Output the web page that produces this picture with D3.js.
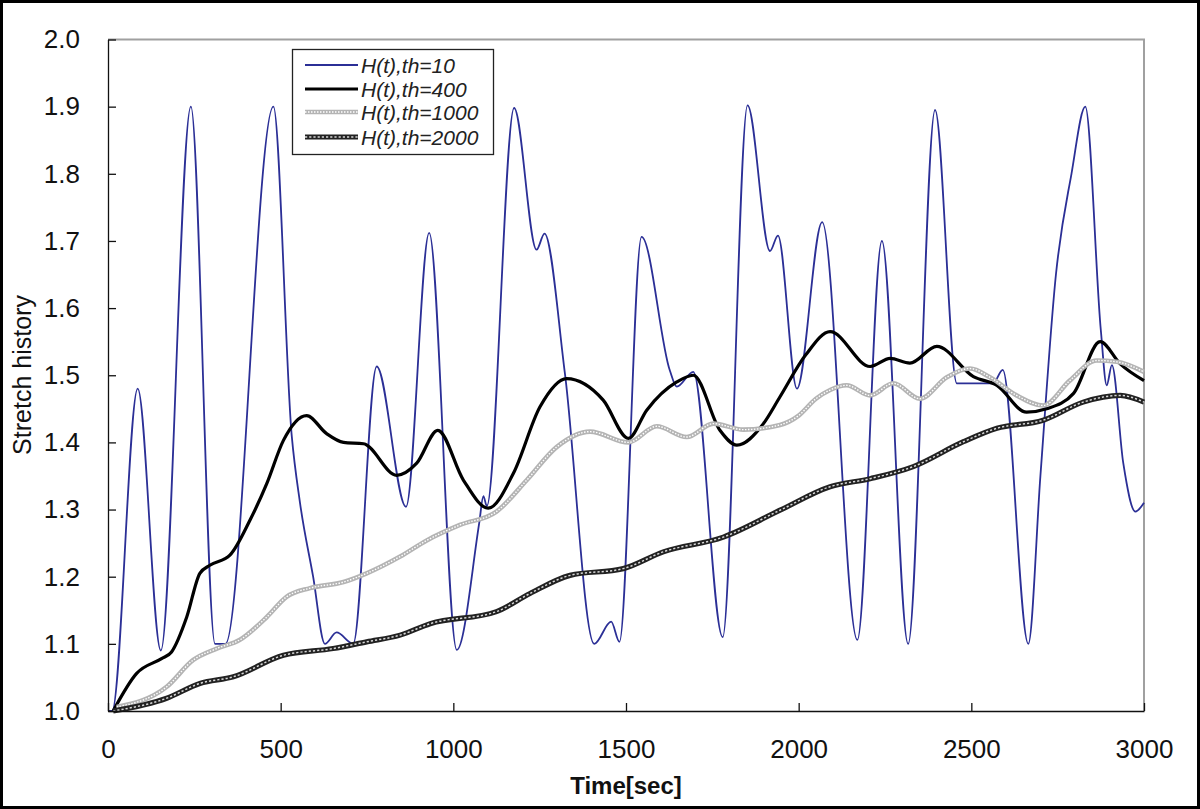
<!DOCTYPE html>
<html>
  <head>
    <meta charset='utf-8'>
    <script src='https://d3js.org/d3.v7.min.js'></script>
    <style>
body {
  margin: 0;
  background: #fff;
  font-family: 'Liberation Sans', Arial, sans-serif;
}
.axis text {
  font-family: 'Liberation Sans', Arial, sans-serif;
  font-size: 26px;
  fill: #111;
}
.axis path, .axis line {
  stroke: #111;
  stroke-width: 1.3;
}
    </style>
  </head>
  <body>
    <svg id='chart' width='1200' height='809'></svg>
    <script>
        // series data [time(sec), stretch]
        const th10 = [
            [0, 1.0], [12, 1.0], [86, 1.48], [153, 1.09], [240, 1.90], [310, 1.10], [340, 1.10],
            [479, 1.90], [532, 1.41], [556, 1.31], [594, 1.20], [628, 1.10], [662, 1.117],
            [710, 1.10], [778, 1.513], [863, 1.304], [930, 1.712], [1010, 1.091], [1075, 1.28],
            [1087, 1.32], [1097, 1.305], [1176, 1.898], [1241, 1.687], [1264, 1.711],
            [1323, 1.503], [1408, 1.10], [1457, 1.133], [1481, 1.103], [1545, 1.706],
            [1627, 1.507], [1647, 1.483], [1695, 1.505], [1780, 1.11], [1852, 1.902],
            [1917, 1.685], [1940, 1.708], [1995, 1.48], [2068, 1.728], [2170, 1.106],
            [2241, 1.70], [2317, 1.10], [2395, 1.895], [2458, 1.488], [2563, 1.488],
            [2591, 1.508], [2665, 1.10], [2700, 1.35], [2745, 1.65], [2790, 1.80],
            [2830, 1.90], [2875, 1.567], [2892, 1.485], [2907, 1.515], [2940, 1.369],
            [2975, 1.297], [3000, 1.31]
        ];
        const th400 = [
            [15, 1.0], [83, 1.056], [155, 1.078], [184, 1.088], [228, 1.14], [266, 1.205],
            [295, 1.217], [353, 1.232], [411, 1.284], [460, 1.339], [508, 1.403], [575, 1.44],
            [633, 1.413], [682, 1.40], [740, 1.398], [836, 1.351], [894, 1.369], [955, 1.418],
            [1029, 1.344], [1101, 1.302], [1174, 1.354], [1251, 1.453], [1328, 1.495],
            [1434, 1.463], [1507, 1.406], [1560, 1.448], [1647, 1.49], [1695, 1.50],
            [1772, 1.418], [1821, 1.396], [1898, 1.428], [1946, 1.468], [2020, 1.53],
            [2091, 1.565], [2207, 1.513], [2265, 1.525], [2322, 1.518], [2400, 1.543],
            [2506, 1.498], [2574, 1.485], [2660, 1.445], [2718, 1.45], [2796, 1.473],
            [2873, 1.55], [2931, 1.517], [3000, 1.492]
        ];
        const th1000 = [
            [25, 1.006], [170, 1.036], [247, 1.076], [315, 1.093], [382, 1.106], [460, 1.14],
            [517, 1.17], [585, 1.183], [682, 1.192], [749, 1.205], [846, 1.23], [923, 1.254],
            [1019, 1.277], [1125, 1.297], [1213, 1.344], [1299, 1.393], [1396, 1.416],
            [1507, 1.40], [1589, 1.424], [1676, 1.408], [1753, 1.428], [1840, 1.419],
            [1946, 1.426], [2000, 1.44], [2050, 1.465], [2091, 1.478], [2139, 1.485],
            [2207, 1.47], [2274, 1.488], [2351, 1.465], [2429, 1.497], [2496, 1.51],
            [2554, 1.497], [2631, 1.47], [2708, 1.455], [2785, 1.492], [2863, 1.522],
            [2921, 1.52], [3000, 1.505]
        ];
        const th2000 = [
            [15, 1.0], [170, 1.019], [266, 1.041], [363, 1.051], [508, 1.083], [652, 1.093],
            [749, 1.103], [846, 1.113], [933, 1.13], [1125, 1.148], [1222, 1.175],
            [1338, 1.202], [1492, 1.212], [1608, 1.237], [1782, 1.259], [1946, 1.299],
            [2091, 1.334], [2207, 1.346], [2332, 1.364], [2477, 1.401], [2574, 1.421],
            [2708, 1.433], [2824, 1.46], [2931, 1.47], [3000, 1.46]
        ];
        const seriesNames = ['H(t),th=10', 'H(t),th=400', 'H(t),th=1000', 'H(t),th=2000'];
        const xTicks = [0, 500, 1000, 1500, 2000, 2500, 3000];
        const yTicks = [1.0, 1.1, 1.2, 1.3, 1.4, 1.5, 1.6, 1.7, 1.8, 1.9, 2.0];

        const svg = d3.select('#chart');
        const plotLeft = 108, plotRight = 1144, plotTop = 39.5, plotBottom = 711;

        const x = d3.scaleLinear().domain([0, 3000]).range([plotLeft, plotRight]);
        const y = d3.scaleLinear().domain([1.0, 2.0]).range([plotBottom, plotTop]);

        // outer frame of the picture
        svg.append('rect')
           .attr('x', 1.5).attr('y', 1.5)
           .attr('width', 1197).attr('height', 806)
           .attr('fill', '#fff')
           .attr('stroke', '#000')
           .attr('stroke-width', 3);

        // plot area frame (top and right are grey)
        svg.append('path')
           .attr('d', 'M' + plotLeft + ',' + plotTop + 'H' + plotRight + 'V' + plotBottom)
           .attr('fill', 'none')
           .attr('stroke', '#a0a0a0')
           .attr('stroke-width', 2);

        const line = d3.line()
            .x(d => x(d[0]))
            .y(d => y(d[1]))
            .curve(d3.curveMonotoneX);

        const plot = svg.append('g');

        // styles: [base stroke, base width, overlay stroke, overlay width, overlay dash]
        const styles = [
            ['#2b2f96', 1.8, null],
            ['#000', 3.2, null],
            ['#b4b4b4', 4.6, '#ffffff', 1.4, '1.5,1.5'],
            ['#222222', 5.2, '#d8d8d8', 1.5, '2.2,2']
        ];
        const allSeries = [th10, th400, th1000, th2000];

        function drawStyled(g, pathD, s) {
            g.append('path')
             .attr('d', pathD)
             .attr('fill', 'none')
             .attr('stroke', s[0])
             .attr('stroke-width', s[1])
             .attr('stroke-linejoin', 'round');
            if (s[2]) {
                g.append('path')
                 .attr('d', pathD)
                 .attr('fill', 'none')
                 .attr('stroke', s[2])
                 .attr('stroke-width', s[3])
                 .attr('stroke-dasharray', s[4]);
            }
        }

        allSeries.forEach((data, i) => drawStyled(plot, line(data), styles[i]));

        // axes
        const yAxis = d3.axisLeft(y)
            .tickValues(yTicks)
            .tickFormat(d3.format('.1f'))
            .tickSizeInner(-8)
            .tickSizeOuter(0)
            .tickPadding(28);
        svg.append('g')
           .attr('class', 'axis')
           .attr('transform', 'translate(' + plotLeft + ',0)')
           .call(yAxis);

        const xAxis = d3.axisBottom(x)
            .tickValues(xTicks)
            .tickFormat(d3.format('d'))
            .tickSizeInner(-8)
            .tickSizeOuter(0)
            .tickPadding(29);
        svg.append('g')
           .attr('class', 'axis')
           .attr('transform', 'translate(0,' + plotBottom + ')')
           .call(xAxis);

        // axis titles
        svg.append('text')
           .attr('x', (plotLeft + plotRight) / 2)
           .attr('y', 794)
           .attr('text-anchor', 'middle')
           .style('font-size', '24px')
           .style('font-weight', 'bold')
           .style('fill', '#111')
           .text('Time[sec]');

        svg.append('text')
           .attr('transform', 'translate(31,375) rotate(-90)')
           .attr('text-anchor', 'middle')
           .style('font-size', '25px')
           .style('fill', '#111')
           .text('Stretch history');

        // legend
        const legend = svg.append('g');
        legend.append('rect')
              .attr('x', 292.5).attr('y', 49.5)
              .attr('width', 201).attr('height', 105)
              .attr('fill', '#fff')
              .attr('stroke', '#222')
              .attr('stroke-width', 1.3);
        const rowY = [65, 89, 112, 137];
        seriesNames.forEach((name, i) => {
            drawStyled(legend, 'M305,' + rowY[i] + 'H358', styles[i]);
            legend.append('text')
                  .attr('x', 361)
                  .attr('y', rowY[i] + 7.5)
                  .style('font-size', '21px')
                  .style('font-style', 'italic')
                  .style('fill', '#222')
                  .text(name);
        });
    </script>
  </body>
</html>
